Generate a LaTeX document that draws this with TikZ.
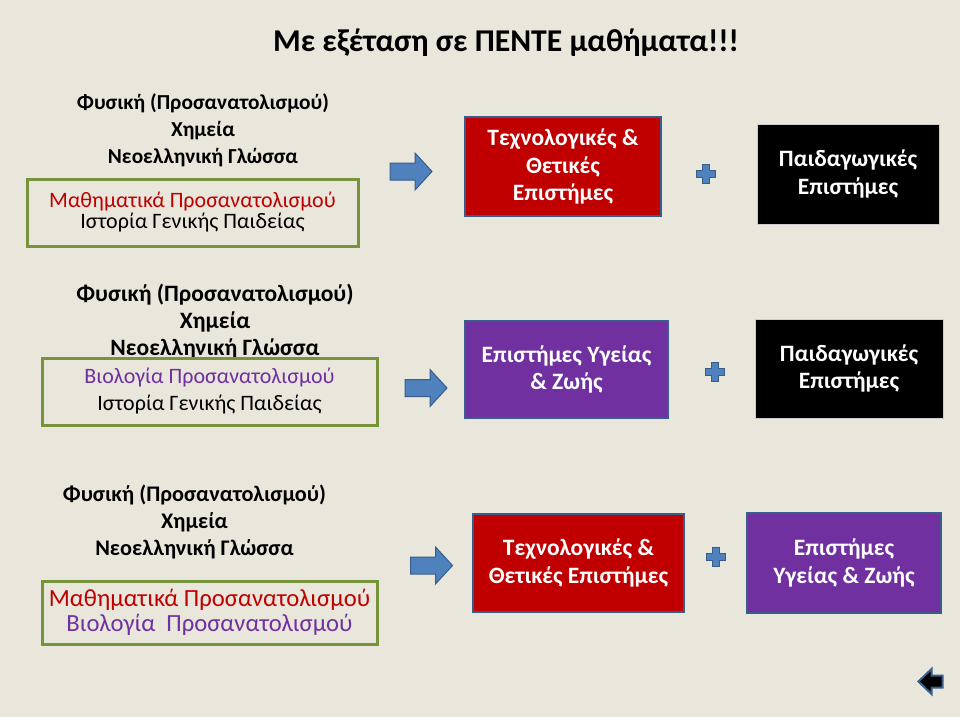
\documentclass[tikz,border=0pt]{standalone}
\usepackage{fontspec}
\setmainfont{Carlito}
\usetikzlibrary{positioning}
\definecolor{slidebg}{HTML}{E9E6DC}
\definecolor{olivegreen}{HTML}{77933C}
\definecolor{techred}{HTML}{C00000}
\definecolor{lifepurple}{HTML}{7030A0}
\definecolor{arrowblue}{HTML}{4F81BD}
\definecolor{edgeblue}{HTML}{385D8A}

\begin{document}
\begin{tikzpicture}[
  x=0.75pt, y=-0.75pt,
  subj/.style={align=center, inner sep=0pt, font=\fontsize{16}{20.25}\selectfont\bfseries},
  choice/.style={draw=olivegreen, line width=2.25pt, align=center, inner sep=0pt, font=\fontsize{16.5}{15.75}\selectfont},
  field/.style={draw=edgeblue, line width=1.5pt, align=center, text=white, inner sep=0pt, font=\fontsize{17.6}{20.5}\selectfont\bfseries},
  pedbox/.style={fill=black, draw=white!80!black, line width=0.5pt, align=center, text=white, inner sep=0pt, font=\fontsize{17.6}{20.5}\selectfont\bfseries},
  blockarrow/.pic={\path[fill=arrowblue, draw=edgeblue, line width=0.75pt] (-21,-8.5) -- (4,-8.5) -- (4,-18.5) -- (21,0) -- (4,18.5) -- (4,8.5) -- (-21,8.5) -- cycle;},
  backarrow/.pic={\path[fill=black, draw=edgeblue, line width=1.5pt] (12,-6) -- (1,-6) -- (1,-12.5) -- (-12,0) -- (1,12.5) -- (1,6) -- (12,6) -- cycle;},
  plussign/.pic={\path[fill=arrowblue, draw=edgeblue, line width=0.6pt] (-3.2,-9.5) -- (3.2,-9.5) -- (3.2,-3.2) -- (9.5,-3.2) -- (9.5,3.2) -- (3.2,3.2) -- (3.2,9.5) -- (-3.2,9.5) -- (-3.2,3.2) -- (-9.5,3.2) -- (-9.5,-3.2) -- (-3.2,-3.2) -- cycle;}
]
\fill[slidebg] (0,0) rectangle (960,717);
\useasboundingbox (0,0) rectangle (960,717);

\node[font=\fontsize{23.8}{28}\selectfont\bfseries] (title) at (506,43) {Με εξέταση σε ΠΕΝΤΕ μαθήματα!!!};

% first combination
\node[subj] (core1) at (203,130) {Φυσική (Προσανατολισμού)\\Χημεία\\Νεοελληνική Γλώσσα};
\node[choice, minimum width=248.25pt, minimum height=50.25pt] (opt1) at (192.5,212.5) {\textcolor{techred}{Μαθηματικά Προσανατολισμού}\\Ιστορία Γενικής Παιδείας};
\pic at (411,171.5) {blockarrow};
\node[field, fill=techred, minimum width=147pt, minimum height=74.25pt] (tech1) at (563,166.5) {Τεχνολογικές \&\\Θετικές\\Επιστήμες};
\pic at (706,174) {plussign};
\node[pedbox, minimum width=136.5pt, minimum height=75pt] (ped1) at (848,174) {Παιδαγωγικές\\Επιστήμες};

% second combination
\node[subj, font=\fontsize{17.6}{20.25}\selectfont\bfseries] (core2) at (215,322) {Φυσική (Προσανατολισμού)\\Χημεία\\Νεοελληνική Γλώσσα};
\node[choice, minimum width=251.25pt, minimum height=50.25pt, font=\fontsize{16.5}{20.25}\selectfont] (opt2) at (209.5,391.5) {\textcolor{lifepurple}{Βιολογία Προσανατολισμού}\\Ιστορία Γενικής Παιδείας};
\pic at (426,388) {blockarrow};
\node[field, fill=lifepurple, minimum width=152.25pt, minimum height=72.75pt] (life2) at (566.5,369.5) {Επιστήμες Υγείας\\\& Ζωής};
\pic at (715,372) {plussign};
\node[pedbox, minimum width=141pt, minimum height=74.25pt] (ped2) at (849,368.5) {Παιδαγωγικές\\Επιστήμες};

% third combination
\node[subj, font=\fontsize{16.7}{20.25}\selectfont\bfseries] (core3) at (194.5,522) {Φυσική (Προσανατολισμού)\\Χημεία\\Νεοελληνική Γλώσσα};
\node[choice, minimum width=251.25pt, minimum height=47.25pt, font=\fontsize{18.5}{18.75}\selectfont] (opt3) at (209.5,612.5) {\textcolor{techred}{Μαθηματικά Προσανατολισμού}\\\textcolor{lifepurple}{Βιολογία\ \ Προσανατολισμού}};
\pic at (431.5,565.5) {blockarrow};
\node[field, fill=techred, minimum width=158.25pt, minimum height=73.5pt] (tech3) at (578.5,563) {Τεχνολογικές \&\\Θετικές Επιστήμες};
\pic at (716,557) {plussign};
\node[field, fill=lifepurple, minimum width=145.5pt, minimum height=75pt] (life3) at (844,563) {Επιστήμες\\Υγείας \& Ζωής};

% back button
\pic at (930.5,681.5) {backarrow};
\end{tikzpicture}
\end{document}
